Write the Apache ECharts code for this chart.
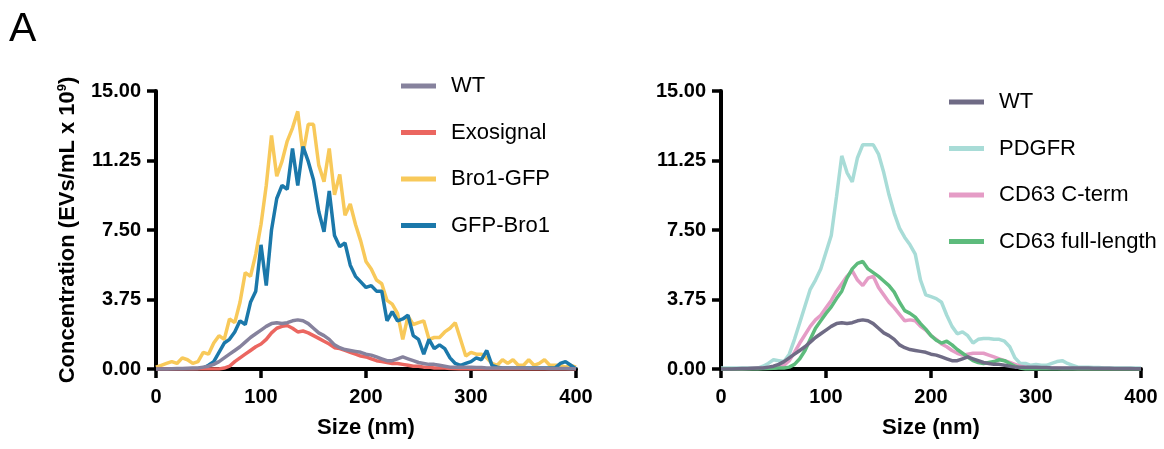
<!DOCTYPE html>
<html>
<head>
<meta charset="utf-8">
<script src="https://cdn.jsdelivr.net/npm/echarts@6/dist/echarts.min.js"></script>
<style>
html,body{margin:0;padding:0;background:#fff;}
#chart{width:1164px;height:449px;}
</style>
</head>
<body>
<div id="chart"></div>
<script>
// Size bins (nm)
const sizes = [0,5,10,15,20,25,30,35,40,45,50,55,60,65,70,75,80,85,90,95,
  100,105,110,115,120,125,130,135,140,145,150,155,160,165,170,175,180,185,190,195,
  200,205,210,215,220,225,230,235,240,245,250,255,260,265,270,275,280,285,290,295,
  300,305,310,315,320,325,330,335,340,345,350,355,360,365,370,375,380,385,390,395,400];

// Concentration (EVs/mL x 10^9)
const wt = [0,0,0,0.02,0.03,0.03,0.04,0.05,0.05,0.1,0.15,0.25,0.4,0.6,0.8,1.0,1.2,1.45,1.7,1.9,
  2.1,2.3,2.45,2.5,2.45,2.5,2.6,2.65,2.6,2.45,2.2,1.95,1.8,1.6,1.3,1.15,1.05,1.0,0.95,0.9,
  0.8,0.75,0.65,0.55,0.45,0.45,0.55,0.65,0.55,0.45,0.35,0.3,0.25,0.25,0.2,0.15,0.1,0.1,0.1,0.1,
  0.1,0.08,0.08,0.06,0.06,0.05,0.05,0.05,0.05,0.05,0.05,0.04,0.04,0.04,0.04,0.03,0.03,0.03,0.03,0.02,0.02];

const exosignal = [0,0,0,0,0,0,0,0,0,0,0,0,0,0.05,0.15,0.4,0.6,0.8,1.0,1.2,
  1.35,1.6,1.95,2.2,2.3,2.35,2.2,2.0,2.05,1.95,1.8,1.65,1.5,1.35,1.15,1.1,1.0,0.9,0.8,0.7,
  0.65,0.55,0.45,0.4,0.35,0.3,0.3,0.25,0.2,0.15,0.15,0.1,0.1,0.05,0.05,0.05,0.03,0.02,0,0,
  0,0,0,0,0,0,0,0,0,0,0,0,0,0,0,0,0,0,0,0,0];

const bro1Gfp = [0.1,0.2,0.3,0.4,0.3,0.6,0.5,0.3,0.4,0.9,0.8,1.4,1.8,1.6,2.7,2.5,3.6,5.2,5.0,6.2,
  7.8,9.9,12.6,10.4,11.2,12.3,13.0,13.9,11.6,13.2,13.2,11.0,10.1,11.9,9.4,10.5,8.3,8.9,7.8,6.9,
  5.8,5.4,4.8,4.6,3.7,3.5,3.0,1.6,2.85,2.4,2.5,2.6,1.6,1.7,1.7,2.0,2.2,2.5,1.6,0.7,
  0.9,0.8,0.8,0.6,0.3,0.2,0.5,0.3,0.5,0.2,0.2,0.5,0.2,0.3,0.5,0.2,0.2,0.2,0.1,0.2,0.1];

const gfpBro1 = [0,0,0,0,0,0,0,0,0.02,0.05,0.2,0.4,0.9,1.4,1.6,2.0,2.6,2.4,3.6,4.2,
  6.7,4.5,7.5,9.2,9.9,9.7,11.9,9.9,12.0,11.2,10.2,8.5,7.4,9.6,7.2,6.6,6.8,5.6,5.0,4.7,
  4.4,4.5,4.2,4.2,2.6,3.1,2.6,2.7,2.9,1.8,1.6,0.8,1.6,1.1,1.3,1.1,0.6,0.3,0.2,0.3,
  0.4,0.6,0.5,1.0,0.2,0.1,0.05,0.05,0.05,0.05,0.05,0.05,0.05,0.05,0.05,0.05,0.05,0.3,0.4,0.2,0];

const pdgfr = [0.05,0.05,0.05,0.05,0.05,0.05,0.05,0.05,0.15,0.3,0.5,0.45,0.4,0.8,1.6,2.5,3.4,4.3,4.8,5.4,
  6.3,7.2,9.3,11.5,10.6,10.1,11.4,12.1,12.1,12.1,11.6,10.6,9.4,8.4,7.6,7.1,6.7,6.2,4.8,4.0,
  3.9,3.8,3.6,2.9,2.3,1.9,2.0,1.8,1.4,1.6,1.65,1.65,1.6,1.6,1.5,1.2,0.6,0.3,0.3,0.2,
  0.25,0.2,0.2,0.3,0.4,0.45,0.3,0.2,0.1,0.1,0.1,0.08,0.08,0.06,0.06,0.05,0.05,0.05,0.05,0.05,0.05];

const cd63Cterm = [0,0,0,0,0,0.02,0.03,0.03,0.04,0.05,0.05,0.1,0.2,0.45,0.9,1.4,1.85,2.3,2.65,2.9,
  3.3,3.7,4.2,4.6,5.0,5.3,4.8,4.5,4.9,5.0,4.4,4.0,3.6,3.3,2.95,2.6,2.65,2.6,2.3,2.1,
  1.8,1.6,1.35,1.2,1.0,0.85,0.75,0.8,0.85,0.85,0.85,0.75,0.65,0.55,0.45,0.35,0.25,0.15,0.1,0.05,
  0.05,0.05,0.05,0.04,0.04,0.03,0.03,0.03,0.02,0.02,0.02,0.02,0.02,0.02,0.02,0.02,0.02,0.02,0.02,0.02,0.02];

const cd63Full = [0,0,0,0,0,0,0,0,0.02,0.03,0.04,0.05,0.05,0.1,0.25,0.55,1.0,1.6,2.2,2.6,
  3.0,3.35,3.8,4.2,4.9,5.4,5.7,5.8,5.4,5.2,5.0,4.75,4.5,4.15,3.6,3.15,3.0,2.8,2.45,2.15,
  1.8,1.55,1.4,1.5,1.3,1.05,0.85,0.65,0.45,0.35,0.3,0.35,0.4,0.5,0.45,0.3,0.15,0.05,0,0,
  0,0,0,0,0,0,0,0,0,0,0,0,0,0,0,0,0,0,0,0,0];

const xTicks = [0,100,200,300,400];
const yTicks = ['0.00','3.75','7.50','11.25','15.00'];

const FONT = "'Liberation Sans', Arial, Helvetica, sans-serif";
function pairs(ys){ return sizes.map((s,i)=>[s, ys[i]]); }

const chart = echarts.init(document.getElementById('chart'), null, {renderer:'canvas'});

function xAxisCfg(gi){
  return {
    gridIndex: gi, type:'value', min:0, max:400, interval:100,
    name:'Size (nm)', nameLocation:'middle', nameGap:48,
    nameTextStyle:{fontFamily:FONT, fontSize:22, fontWeight:'bold', color:'#000'},
    axisLine:{show:true, onZero:false, lineStyle:{color:'#000', width:4}},
    axisTick:{show:true, length:9, lineStyle:{color:'#000', width:3.5}},
    axisLabel:{fontFamily:FONT, fontSize:20, fontWeight:'bold', color:'#000', margin:18},
    splitLine:{show:false}
  };
}
function yAxisCfg(gi, withName){
  const cfg = {
    gridIndex: gi, type:'value', min:0, max:15, interval:3.75,
    axisLine:{show:true, lineStyle:{color:'#000', width:4}},
    axisTick:{show:true, length:9, lineStyle:{color:'#000', width:3.5}},
    axisLabel:{fontFamily:FONT, fontSize:20, fontWeight:'bold', color:'#000', margin:15,
      formatter:(v)=>yTicks[Math.round(v/3.75)]},
    splitLine:{show:false}
  };
  if (withName){
    cfg.name = 'Concentration (EVs/mL x 10{sup|9})';
    cfg.nameLocation = 'middle';
    cfg.nameGap = 76;
    cfg.nameRotate = 90;
    cfg.nameTextStyle = {fontFamily:FONT, fontSize:22, fontWeight:'bold', color:'#000', lineHeight:24,
      rich:{sup:{fontFamily:FONT, fontSize:13, fontWeight:'bold', color:'#000', verticalAlign:'top', lineHeight:24}}};
  }
  return cfg;
}
function lineSeries(name, data, color, xi){
  return {
    name, type:'line', xAxisIndex:xi, yAxisIndex:xi, data:pairs(data),
    showSymbol:false, symbol:'none', smooth:false,
    lineStyle:{color, width:3.5}, itemStyle:{color},
    emphasis:{disabled:true}, animation:false
  };
}
function legendCfg(left, top, names){
  return {
    orient:'vertical', left, top, data:names, icon:'rect',
    itemWidth:35, itemHeight:5, itemGap:24.5,
    textStyle:{fontFamily:FONT, fontSize:22, color:'#000', padding:[0,0,0,10]},
    selectedMode:false
  };
}

const C = {
  wtL:'#86829d', exo:'#eb6660', bro:'#f8c95a', gfp:'#1b78aa',
  wtR:'#6f6b85', pdg:'#a8dcd7', cte:'#e59cc6', cfl:'#5dbb7c'
};

chart.setOption({
  animation:false,
  backgroundColor:'#fff',
  title:{text:'A', left:4, top:4, textStyle:{fontFamily:FONT, fontSize:41, fontWeight:'normal', color:'#000'}},
  grid:[
    {left:156, top:91, width:420, height:278},
    {left:721, top:91, width:420, height:278}
  ],
  xAxis:[xAxisCfg(0), xAxisCfg(1)],
  yAxis:[yAxisCfg(0,true), yAxisCfg(1,false)],
  legend:[
    legendCfg(396, 70, ['WT','Exosignal','Bro1-GFP','GFP-Bro1']),
    legendCfg(944, 86, ['WT ','PDGFR','CD63 C-term','CD63 full-length'])
  ],
  series:[
    lineSeries('Bro1-GFP', bro1Gfp, C.bro, 0),
    lineSeries('GFP-Bro1', gfpBro1, C.gfp, 0),
    lineSeries('Exosignal', exosignal, C.exo, 0),
    lineSeries('WT', wt, C.wtL, 0),
    lineSeries('PDGFR', pdgfr, C.pdg, 1),
    lineSeries('CD63 C-term', cd63Cterm, C.cte, 1),
    lineSeries('CD63 full-length', cd63Full, C.cfl, 1),
    lineSeries('WT ', wt, C.wtR, 1)
  ]
});
</script>
</body>
</html>
